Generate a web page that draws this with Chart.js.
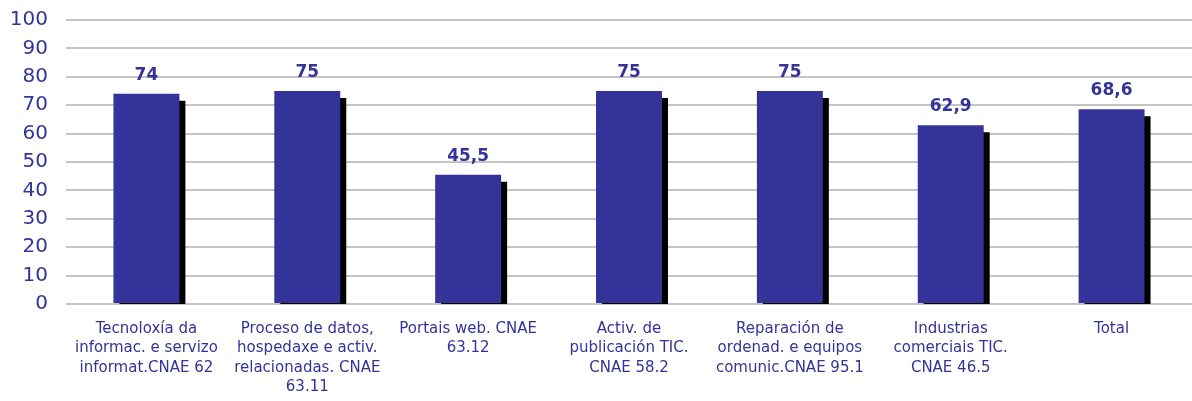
<!DOCTYPE html>
<html>
<head>
<meta charset="utf-8">
<script src="https://cdn.jsdelivr.net/npm/chart.js@4"></script>
<style>
  html, body { margin: 0; padding: 0; background: #fff; }
  #wrap { width: 1192px; height: 401px; }
</style>
</head>
<body>
<div id="wrap"><canvas id="chart" width="1192" height="401"></canvas></div>
<script>
// categories (wrapped as in the source)
const categories = [
  ["Tecnoloxía da", "informac. e servizo", "informat.CNAE 62"],
  ["Proceso de datos,", "hospedaxe e activ.", "relacionadas. CNAE", "63.11"],
  ["Portais web. CNAE", "63.12"],
  ["Activ. de", "publicación TIC.", "CNAE 58.2"],
  ["Reparación de", "ordenad. e equipos", "comunic.CNAE 95.1"],
  ["Industrias", "comerciais TIC.", "CNAE 46.5"],
  ["Total"]
];
const values = [74, 75, 45.5, 75, 75, 62.9, 68.6];
const yTicks = [0, 10, 20, 30, 40, 50, 60, 70, 80, 90, 100];

const BLUE = "#333399";

// black drop shadow behind the bars
const shadowPlugin = {
  id: "barShadow",
  beforeDatasetDraw(chart) {
    const ctx = chart.ctx;
    ctx.save();
    ctx.shadowColor = "#000";
    ctx.shadowBlur = 0;
    ctx.shadowOffsetX = 6;
    ctx.shadowOffsetY = 7;
  },
  afterDatasetDraw(chart) {
    chart.ctx.restore();
  }
};

// value labels above bars
const valueLabels = {
  id: "valueLabels",
  afterDatasetsDraw(chart) {
    const ctx = chart.ctx;
    const meta = chart.getDatasetMeta(0);
    ctx.save();
    ctx.font = "bold 17px 'DejaVu Sans'";
    ctx.fillStyle = BLUE;
    ctx.textAlign = "center";
    ctx.textBaseline = "bottom";
    meta.data.forEach((bar, i) => {
      const txt = String(values[i]).replace(".", ",");
      ctx.fillText(txt, bar.x, bar.y - 10);
    });
    ctx.restore();
  }
};

new Chart(document.getElementById("chart"), {
  type: "bar",
  data: {
    labels: categories,
    datasets: [{
      data: values,
      backgroundColor: BLUE,
      borderWidth: 0,
      categoryPercentage: 1,
      barPercentage: 0.41,
      clip: 0
    }]
  },
  options: {
    responsive: false,
    animation: false,
    layout: { padding: { top: 20, right: 0, bottom: 0, left: 0 } },
    plugins: {
      legend: { display: false },
      tooltip: { enabled: false }
    },
    scales: {
      x: {
        grid: { display: false },
        border: { display: false },
        ticks: {
          color: BLUE,
          maxRotation: 0,
          autoSkip: false,
          padding: 7,
          font: { family: "DejaVu Sans", size: 15, lineHeight: 1.3 }
        },
        afterFit(scale) { scale.height = 97; }
      },
      y: {
        min: 0,
        max: 100,
        afterBuildTicks(scale) { scale.ticks = yTicks.map(v => ({ value: v })); },
        grid: { color: "#c4c4c4", lineWidth: 2, drawTicks: false },
        border: { display: false },
        ticks: {
          color: BLUE,
          padding: 18,
          font: { family: "DejaVu Sans", size: 20 }
        },
        afterFit(scale) {
          scale.width = 66;
          scale.paddingTop = 0;
          scale.paddingBottom = 0;
        }
      }
    }
  },
  plugins: [shadowPlugin, valueLabels]
});
</script>
</body>
</html>
